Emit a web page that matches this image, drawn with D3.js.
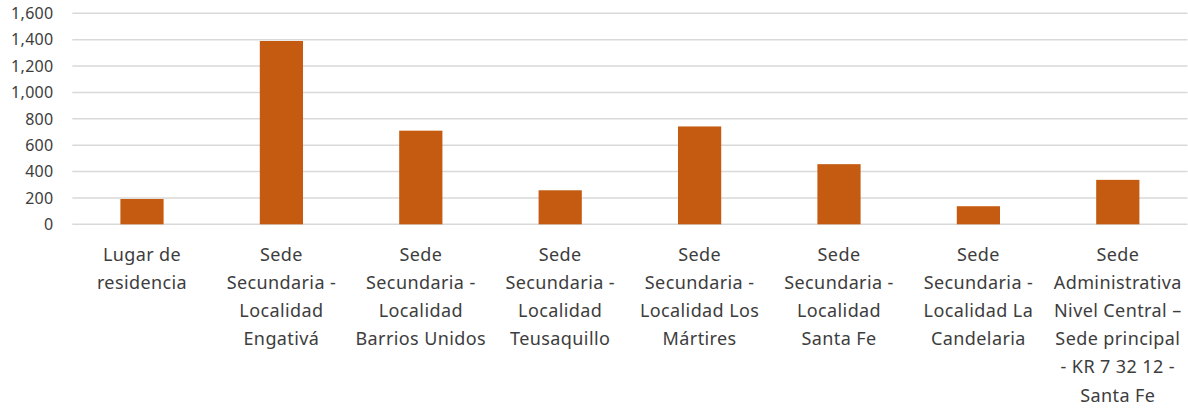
<!DOCTYPE html>
<html>
<head>
<meta charset="utf-8">
<script src="https://cdn.jsdelivr.net/npm/d3@7"></script>
<style>
  html, body { margin: 0; padding: 0; background: #fff; }
  svg { display: block; }
  text { font-family: "Noto Sans", "Liberation Sans", sans-serif; fill: #3d3d3d; }
</style>
</head>
<body>
<svg id="chart" width="1188" height="408"></svg>
<script>
const categories = [
  "Lugar de residencia",
  "Sede Secundaria - Localidad Engativá",
  "Sede Secundaria - Localidad Barrios Unidos",
  "Sede Secundaria - Localidad Teusaquillo",
  "Sede Secundaria - Localidad Los Mártires",
  "Sede Secundaria - Localidad Santa Fe",
  "Sede Secundaria - Localidad La Candelaria",
  "Sede Administrativa Nivel Central – Sede principal - KR 7 32 12 - Santa Fe"
];
const categoryLines = [
  ["Lugar de", "residencia"],
  ["Sede", "Secundaria -", "Localidad", "Engativá"],
  ["Sede", "Secundaria -", "Localidad", "Barrios Unidos"],
  ["Sede", "Secundaria  -", "Localidad", "Teusaquillo"],
  ["Sede", "Secundaria -", "Localidad Los", "Mártires"],
  ["Sede", "Secundaria -", "Localidad", "Santa Fe"],
  ["Sede", "Secundaria -", "Localidad La", "Candelaria"],
  ["Sede", "Administrativa", "Nivel Central –", "Sede principal", "- KR 7 32 12 -", "Santa Fe"]
];
const values = [192, 1390, 710, 258, 742, 456, 137, 337];
const yTicks = [0, 200, 400, 600, 800, 1000, 1200, 1400, 1600];

const svg = d3.select("#chart");
const margin = { left: 72.3, right: 0.5, top: 13.3 };
const W = 1188;
const plotBottom = 224.3;

const x = d3.scaleBand()
  .domain(categories)
  .range([margin.left, W - margin.right])
  .paddingInner(0.69)
  .paddingOuter(0.345);

const y = d3.scaleLinear()
  .domain([0, 1600])
  .range([plotBottom, margin.top]);

// gridlines
svg.append("g")
  .selectAll("line")
  .data(yTicks)
  .join("line")
  .attr("x1", margin.left)
  .attr("x2", W - margin.right)
  .attr("y1", d => y(d))
  .attr("y2", d => y(d))
  .attr("stroke", "#d9d9d9")
  .attr("stroke-width", 1.4);

// y axis labels
const fmt = d3.format(",");
svg.append("g")
  .selectAll("text")
  .data(yTicks)
  .join("text")
  .attr("x", 53.5)
  .attr("y", d => y(d))
  .attr("dy", "0.36em")
  .attr("text-anchor", "end")
  .style("font-size", "16px")
  .style("letter-spacing", "0.3px")
  .text(d => fmt(d));

// bars
svg.append("g")
  .selectAll("rect")
  .data(values)
  .join("rect")
  .attr("x", (d, i) => x(categories[i]))
  .attr("width", x.bandwidth())
  .attr("y", d => y(d))
  .attr("height", d => y(0) - y(d))
  .attr("fill", "#c55a11");

// category labels
const lab = svg.append("g")
  .selectAll("text")
  .data(categories)
  .join("text")
  .attr("text-anchor", "middle")
  .style("font-size", "18px")
  .style("letter-spacing", "0.4px")
  .attr("transform", d => `translate(${x(d) + x.bandwidth() / 2},0)`);

lab.selectAll("tspan")
  .data((d, i) => categoryLines[i])
  .join("tspan")
  .attr("x", 0)
  .attr("y", (d, j) => 261 + j * 28.1)
  .text(d => d);
</script>
</body>
</html>
